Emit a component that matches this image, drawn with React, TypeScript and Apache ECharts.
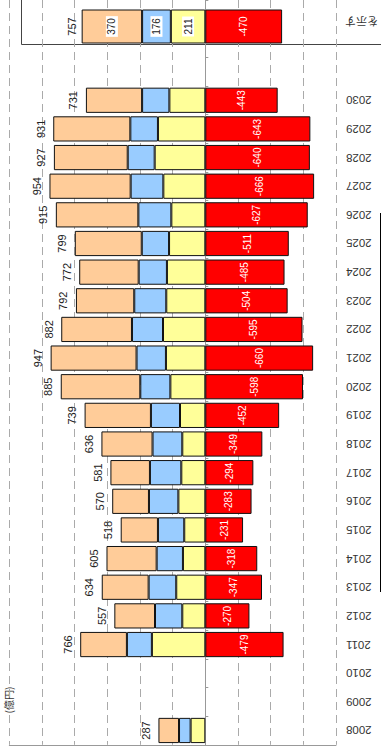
import React, { useEffect, useRef } from "react";
import * as echarts from "echarts";

const years = ["2008","2009","2010","2011","2012","2013","2014","2015","2016","2017","2018","2019","2020","2021","2022","2023","2024","2025","2026","2027","2028","2029","2030"];
const padCats = ["", "", ""];
const peach = [126, null, null, 286, 249, 287, 307, 228, 225, 242, 313, 406, 487, 526, 433, 357, 364, 410, 505, 497, 452, 472, 344];
const blue = [71, null, null, 153, 167, 169, 161, 161, 180, 192, 182, 178, 184, 180, 190, 196, 173, 167, 202, 200, 165, 169, 167];
const yellow = [90, null, null, 327, 141, 178, 137, 129, 165, 147, 141, 155, 214, 241, 259, 239, 235, 222, 208, 257, 310, 290, 220];
const red = [null, null, null, -479, -270, -347, -318, -231, -283, -294, -349, -452, -598, -660, -595, -504, -485, -511, -627, -666, -640, -643, -443];
const totals = [287, null, null, 766, 557, 634, 605, 518, 570, 581, 636, 739, 885, 947, 882, 792, 772, 799, 915, 954, 927, 931, 731];

const legendPeach = [370];
const legendBlue = [176];
const legendYellow = [211];
const legendRed = [-470];
const legendTotal = [757];
const legendCat = ["凡例"];

const C_PEACH = "#FFCC99";
const C_BLUE = "#99CCFF";
const C_YELLOW = "#FFFF99";
const C_RED = "#FF0000";
const FONT = "'Liberation Sans Narrow', 'Liberation Sans', Arial, sans-serif";

export default function App() {
  const ref = useRef<HTMLDivElement>(null);
  useEffect(() => {
    if (!ref.current) return;
    const chart = echarts.init(ref.current, undefined, { renderer: "svg" });
    const cats = years.concat(padCats);
    const border = { borderColor: "#111", borderWidth: 1 };
    const valLabel = { fontFamily: FONT, fontSize: 10, color: "#222" };
    chart.setOption({
      animation: false,
      backgroundColor: "#fff",
      grid: [
        { left: 9.3, right: 45, top: -23, bottom: 6.2 },
        { left: 9.3, right: 45, top: 9.5, height: 34 },
      ],
      xAxis: [
        {
          gridIndex: 0, type: "value", min: -800, max: 1200, interval: 200, inverse: true,
          axisLine: { show: true, lineStyle: { color: "#999" } },
          axisTick: { show: false }, axisLabel: { show: false },
          splitLine: { show: true, lineStyle: { type: [8, 5], color: "#aaa", width: 1 } },
        },
        { gridIndex: 1, type: "value", min: -800, max: 1200, interval: 200, inverse: true, show: false },
      ],
      yAxis: [
        {
          gridIndex: 0, type: "category", data: cats, position: "right",
          axisLine: { show: false, onZero: false }, axisTick: { show: false },
          axisLabel: { rotate: 180, align: "right", verticalAlign: "middle", margin: 10, fontSize: 11.5, fontFamily: FONT, color: "#333" },
        },
        {
          gridIndex: 0, type: "category", data: cats, position: "left",
          axisLine: { show: true, onZero: true, lineStyle: { color: "#999" } },
          axisTick: { show: true, inside: true, length: 3, lineStyle: { color: "#999" } },
          axisLabel: { show: false },
        },
        { gridIndex: 1, type: "category", data: legendCat, show: false },
      ],
      series: [
        { type: "bar", xAxisIndex: 0, yAxisIndex: 0, stack: "a", barWidth: "88%", data: yellow, itemStyle: { color: C_YELLOW, ...border } },
        { type: "bar", xAxisIndex: 0, yAxisIndex: 0, stack: "a", data: blue, itemStyle: { color: C_BLUE, ...border } },
        {
          type: "bar", xAxisIndex: 0, yAxisIndex: 0, stack: "a", data: peach, itemStyle: { color: C_PEACH, ...border },
          label: {
            show: true, position: "left", rotate: 90, align: "center", verticalAlign: "bottom", distance: 7,
            formatter: (p: any) => (totals[p.dataIndex] == null ? "" : String(totals[p.dataIndex])), ...valLabel, fontSize: 11,
          },
        },
        {
          type: "bar", xAxisIndex: 0, yAxisIndex: 0, stack: "a", data: red, itemStyle: { color: C_RED, ...border },
          label: { show: true, position: "inside", rotate: 90, ...valLabel, color: "#fff" },
        },
        { type: "bar", xAxisIndex: 1, yAxisIndex: 2, stack: "leg", barWidth: "100%", data: legendYellow, itemStyle: { color: C_YELLOW, ...border },
          label: { show: true, position: "inside", rotate: 90, ...valLabel, backgroundColor: "#fff", padding: [1, 2] } },
        { type: "bar", xAxisIndex: 1, yAxisIndex: 2, stack: "leg", data: legendBlue, itemStyle: { color: C_BLUE, ...border },
          label: { show: true, position: "inside", rotate: 90, ...valLabel, backgroundColor: "#fff", padding: [1, 2] } },
        { type: "bar", xAxisIndex: 1, yAxisIndex: 2, stack: "leg", data: legendPeach, itemStyle: { color: C_PEACH, ...border },
          label: { show: true, position: "inside", rotate: 90, ...valLabel, backgroundColor: "#fff", padding: [1, 2] } },
        { type: "bar", xAxisIndex: 1, yAxisIndex: 2, stack: "leg", data: [0], itemStyle: { color: "transparent", borderWidth: 0 },
          label: { show: true, position: "left", rotate: 90, align: "center", verticalAlign: "bottom", distance: 4,
            formatter: () => String(legendTotal[0]), ...valLabel, fontSize: 11 } },
        { type: "bar", xAxisIndex: 1, yAxisIndex: 2, stack: "leg", data: legendRed, itemStyle: { color: C_RED, ...border },
          label: { show: true, position: "inside", rotate: 90, ...valLabel, color: "#fff" } },
      ],
      graphic: [
        { type: "rect", shape: { x: 21.5, y: -5, width: 400, height: 49.5 }, style: { fill: "none", stroke: "#444", lineWidth: 1 }, silent: true },
        { type: "text", x: 345, y: 22, rotation: Math.PI, style: { text: "を示す", fontSize: 11, fill: "#333", align: "right", verticalAlign: "middle", fontFamily: "'Noto Sans CJK JP', sans-serif" } },
        { type: "text", x: 8, y: 700, rotation: Math.PI / 2, style: { text: "(億円)", fontSize: 10, fill: "#333", align: "center", verticalAlign: "middle", fontFamily: "'Noto Sans CJK JP', sans-serif" } },
        { type: "line", shape: { x1: 380.5, y1: 213, x2: 380.5, y2: 592 }, style: { stroke: "#000", lineWidth: 1 } },
      ],
    });
    return () => chart.dispose();
  }, []);
  return <div ref={ref} style={{ position: "fixed", left: 0, top: 0, width: 381, height: 751 }} />;
}
